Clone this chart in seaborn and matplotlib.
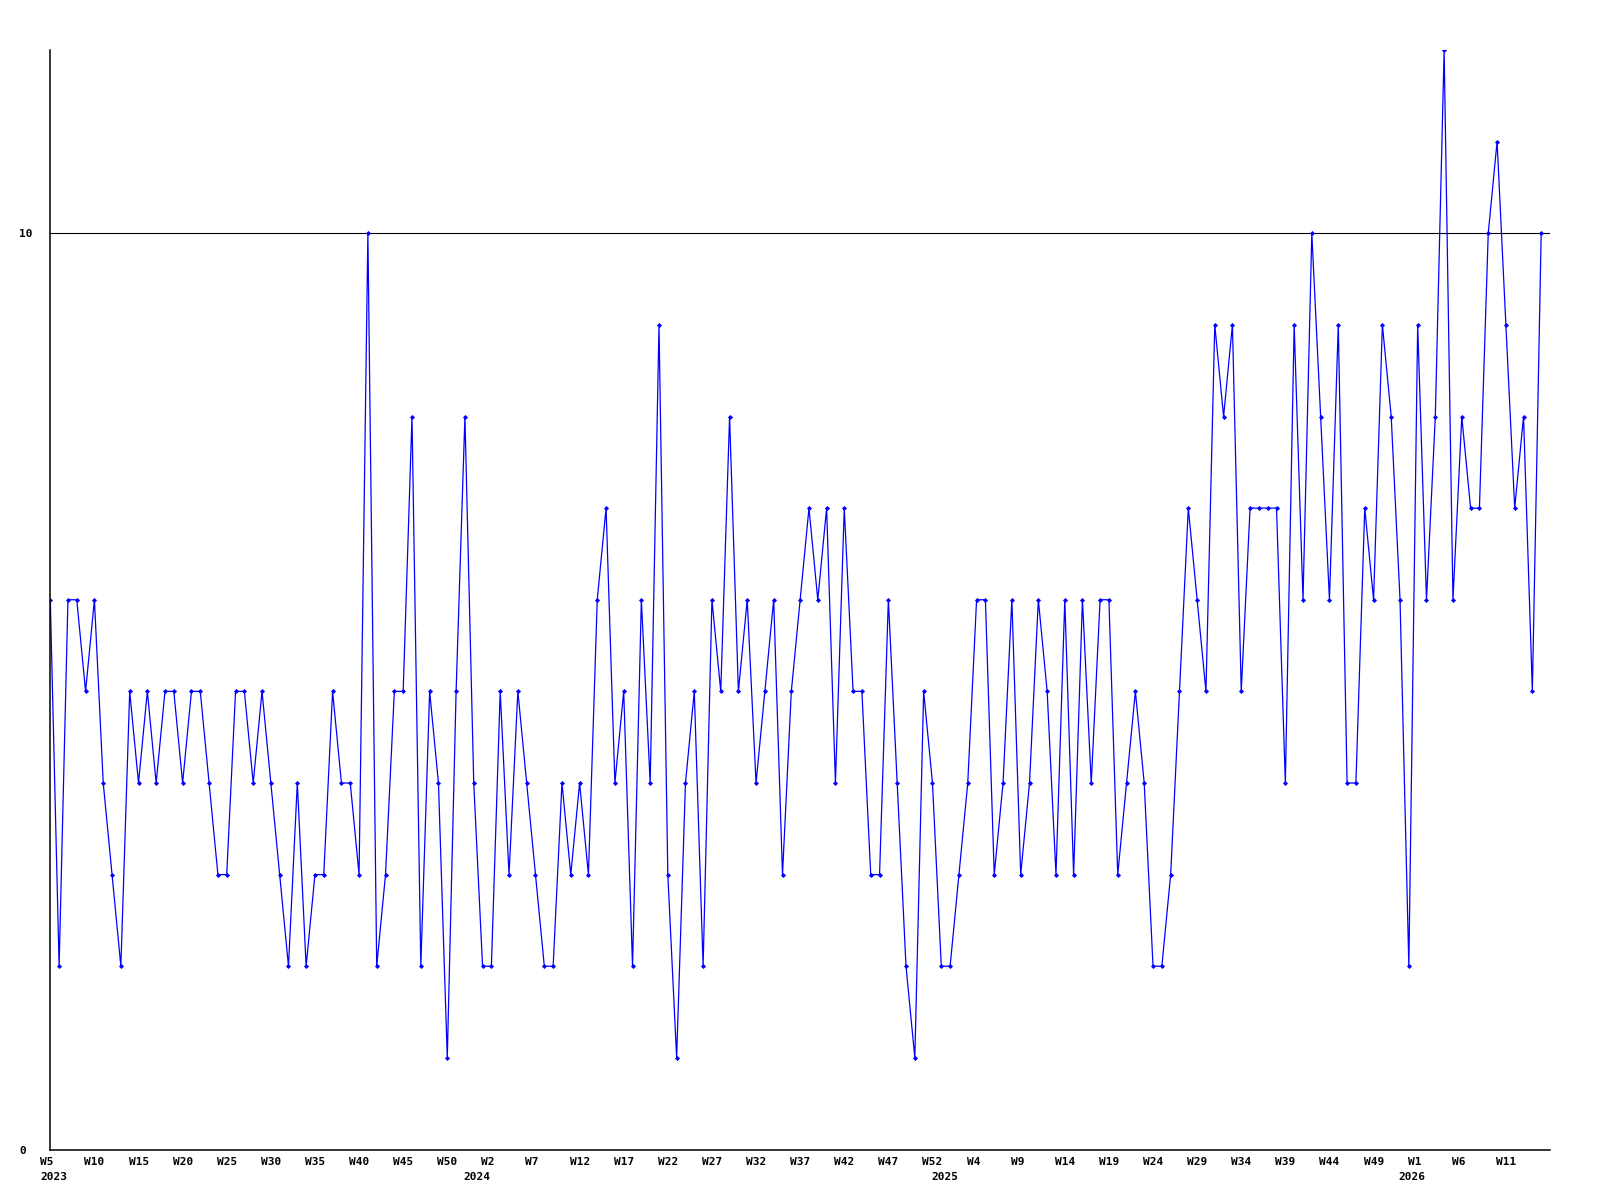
import matplotlib
matplotlib.use("Agg")
import matplotlib.pyplot as plt
import matplotlib.transforms as mtransforms
import seaborn as sns
import pandas as pd

# ---- data (weekly values, W5 2023 .. W15 2026) ----
start_year = 2023
start_week = 5
weeks_per_year = 53          # weeks numbered W0..W52
values = [
    6, 2, 6, 6, 5, 6, 4, 3, 2, 5, 4, 5, 4, 5, 5, 4, 5, 5, 4, 3, 3, 5,
    5, 4, 5, 4, 3, 2, 4, 2, 3, 3, 5, 4, 4, 3, 10, 2, 3, 5, 5, 8, 2,
    5, 4, 1, 5, 8, 4, 2, 2, 5, 3, 5, 4, 3, 2, 2, 4, 3, 4, 3, 6, 7, 4,
    5, 2, 6, 4, 9, 3, 1, 4, 5, 2, 6, 5, 8, 5, 6, 4, 5, 6, 3, 5, 6, 7,
    6, 7, 4, 7, 5, 5, 3, 3, 6, 4, 2, 1, 5, 4, 2, 2, 3, 4, 6, 6, 3,
    4, 6, 3, 4, 6, 5, 3, 6, 3, 6, 4, 6, 6, 3, 4, 5, 4, 2, 2, 3, 5, 7,
    6, 5, 9, 8, 9, 5, 7, 7, 7, 7, 4, 9, 6, 10, 8, 6, 9, 4, 4, 7, 6,
    9, 8, 6, 2, 9, 6, 8, 12, 6, 8, 7, 7, 10, 11, 9, 7, 8, 5, 10,
]
y_ticks = [0, 10]
y_tick_labels = ["0", "10"]

# week / year label per point
week_labels, year_labels = [], []
yr, wk = start_year, start_week
for _ in values:
    week_labels.append(f"W{wk}")
    year_labels.append(str(yr))
    wk += 1
    if wk >= weeks_per_year:
        wk = 0
        yr += 1

df = pd.DataFrame({"idx": range(len(values)), "value": values,
                   "week": week_labels, "year": year_labels})

# ---- style ----
sns.set_style("white")
plt.rcParams["font.family"] = ["DejaVu Sans Mono", "DejaVu Sans"]
plt.rcParams["font.weight"] = "bold"

W, H = 1600, 1200
fig = plt.figure(figsize=(16, 12), dpi=100)
left, right, top, bottom = 50.3, 1550, 50, 1149.5
ax = fig.add_axes([left / W, 1 - bottom / H, (right - left) / W, (bottom - top) / H])

sns.lineplot(data=df, x="idx", y="value", ax=ax, color="#0000ff",
             linewidth=0.9, marker="D", markersize=2.6, markeredgewidth=0,
             markerfacecolor="#0000ff")

ax.set_xlim(0, len(values))
ax.set_ylim(0, 12)
ax.set_xlabel("")
ax.set_ylabel("")

# y axis
ax.set_yticks(y_ticks)
ax.set_yticklabels(y_tick_labels)
ax.yaxis.grid(True, color="black", linewidth=0.8)
ax.xaxis.grid(False)

# x axis: week labels every 5th point (major), year labels at year starts (minor)
ax.xaxis.remove_overlapping_locs = False
major_pos = list(range(0, len(values), 5))
ax.set_xticks(major_pos)
ax.set_xticklabels([df.loc[p, "week"] for p in major_pos])

minor_pos = [i for i in range(len(values)) if i == 0 or df.loc[i, "week"] == "W0"]
ax.set_xticks(minor_pos, minor=True)
ax.set_xticklabels([df.loc[i, "year"] for i in minor_pos], minor=True)

ax.tick_params(axis="both", which="both", length=0, labelsize=8, colors="black")
ax.tick_params(axis="x", which="major", pad=5.5)
ax.tick_params(axis="x", which="minor", pad=16.5)
ax.tick_params(axis="y", pad=22.3)

offset = mtransforms.ScaledTranslation(-10 / 100, 0, fig.dpi_scale_trans)
for lbl in ax.get_xticklabels(which="both"):
    lbl.set_horizontalalignment("left")
    lbl.set_transform(lbl.get_transform() + offset)
    lbl.set_fontweight("bold")
for lbl in ax.get_yticklabels():
    lbl.set_horizontalalignment("left")
    lbl.set_fontweight("bold")

for s in ["top", "right"]:
    ax.spines[s].set_visible(False)
for s in ["left", "bottom"]:
    ax.spines[s].set_color("black")
    ax.spines[s].set_linewidth(1.1)

fig.savefig("out.png", dpi=100, facecolor="white")
